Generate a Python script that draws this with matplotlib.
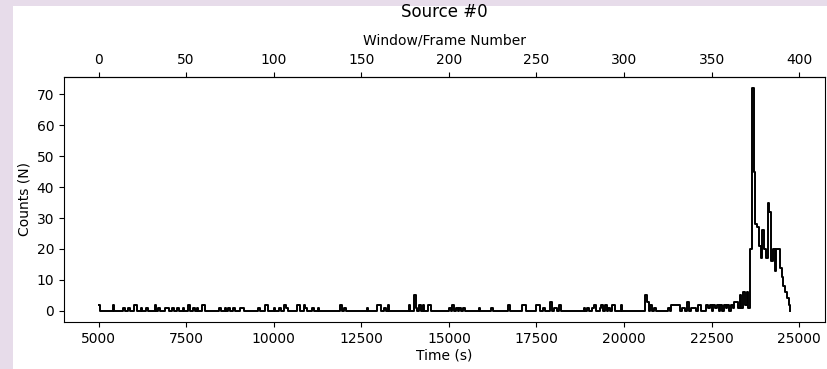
import numpy as np
import matplotlib
matplotlib.use('Agg')
import matplotlib.pyplot as plt
from matplotlib.patches import Rectangle

# counts per 50 s window
counts = [
    2, 0, 0, 0, 0, 0, 0, 0, 2, 0, 0, 0, 0, 0, 1, 0, 0, 1, 0, 0,
    2, 2, 0, 0, 1, 0, 0, 1, 0, 0, 0, 0, 2, 0, 1, 0, 0, 0, 1, 1,
    0, 0, 1, 0, 0, 1, 0, 0, 1, 0, 0, 2, 0, 0, 1, 0, 1, 0, 0, 2,
    2, 0, 0, 0, 0, 0, 0, 0, 0, 1, 0, 0, 1, 0, 1, 0, 0, 1, 0, 0,
    0, 1, 1, 0, 0, 0, 0, 0, 0, 0, 0, 1, 0, 0, 0, 2, 2, 0, 0, 0,
    1, 0, 0, 1, 0, 0, 2, 1, 0, 0, 0, 0, 0, 2, 2, 0, 0, 2, 1, 0,
    0, 0, 1, 0, 0, 1, 0, 0, 0, 0, 0, 0, 0, 0, 0, 0, 0, 0, 2, 0,
    1, 0, 0, 0, 0, 0, 0, 0, 0, 0, 0, 0, 0, 1, 0, 0, 0, 0, 0, 2,
    2, 0, 0, 1, 0, 2, 0, 0, 0, 0, 0, 0, 0, 0, 0, 0, 0, 2, 0, 0,
    5, 1, 0, 2, 0, 2, 0, 0, 2, 2, 0, 0, 0, 0, 0, 0, 0, 0, 0, 0,
    1, 0, 2, 0, 1, 0, 1, 0, 1, 0, 0, 0, 0, 0, 0, 0, 0, 1, 0, 0,
    0, 0, 0, 0, 1, 0, 0, 0, 0, 0, 0, 0, 0, 0, 2, 0, 0, 0, 0, 0,
    0, 0, 2, 2, 0, 0, 0, 0, 0, 0, 2, 2, 0, 0, 1, 0, 0, 0, 3, 0,
    1, 1, 0, 2, 0, 0, 0, 0, 0, 0, 0, 0, 0, 0, 0, 0, 0, 1, 0, 1,
    0, 0, 1, 2, 0, 0, 1, 2, 0, 2, 0, 1, 0, 2, 2, 0, 0, 0, 2, 0,
    0, 0, 0, 0, 0, 0, 0, 0, 0, 0, 0, 0, 5, 3, 0, 2, 0, 1, 0, 0,
    0, 0, 0, 0, 0, 1, 0, 2, 2, 2, 2, 2, 0, 1, 1, 0, 3, 0, 1, 1,
    1, 0, 2, 2, 0, 0, 0, 2, 1, 2, 0, 2, 1, 2, 0, 2, 0, 2, 1, 2,
    0, 2, 1, 3, 3, 1, 5, 1, 6, 2, 6, 1, 20, 72, 45, 28, 27, 21, 17, 26,
    20, 17, 35, 32, 16, 20, 13, 20, 20, 14, 11, 8, 6, 4, 2, 0,
]
t_start = 5000
window = 50
frames = np.arange(len(counts))
times = t_start + window * frames

fig = plt.figure(figsize=(8.27, 3.69), dpi=100)
fig.patch.set_facecolor('#e7dcea')
# white notebook-like area behind the axes
fig.add_artist(Rectangle((13 / 827, 0), 1, 1 - 6 / 369, transform=fig.transFigure,
                         facecolor='white', edgecolor='none', zorder=-10))

ax = fig.add_axes([64 / 827, 1 - 322 / 369, (825 - 64) / 827, (322 - 77) / 369])
ax.step(times, counts, where='post', color='black', lw=1.4)
ax.set_xlabel('Time (s)', labelpad=2)
ax.set_ylabel('Counts (N)')
ax.set_yticks(range(0, 80, 10))

top = ax.secondary_xaxis('top', functions=(lambda t: (t - t_start) / window,
                                           lambda f: f * window + t_start))
top.set_xticks(range(0, 401, 50))
top.set_xlabel('Window/Frame Number', labelpad=6)
ax.set_title('Source #0', fontsize=12, pad=12)

fig.savefig('out.png', dpi=100, facecolor=fig.get_facecolor())
